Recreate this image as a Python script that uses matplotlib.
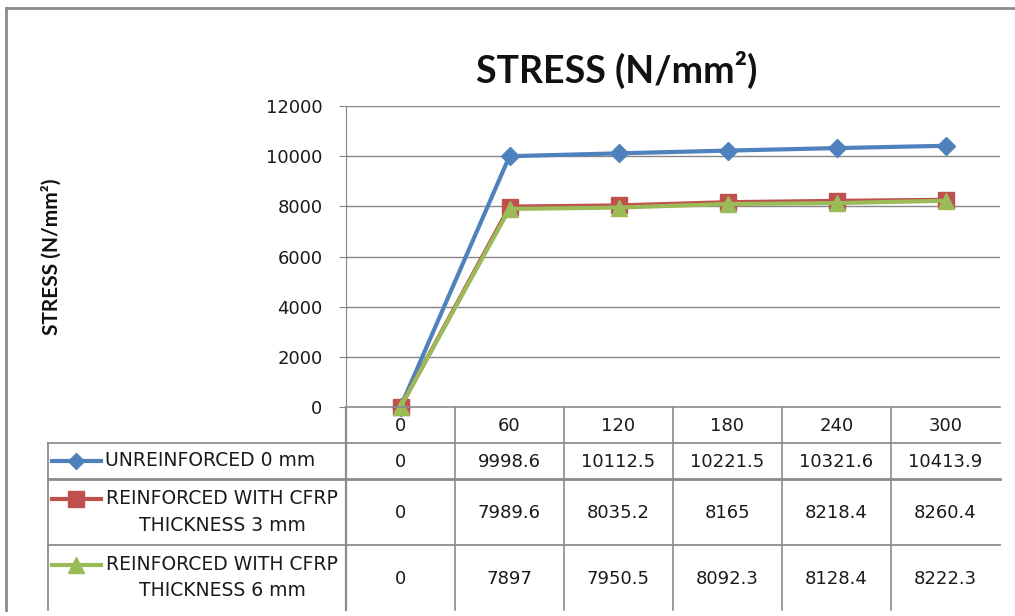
import matplotlib
matplotlib.use("Agg")
import matplotlib.pyplot as plt
from matplotlib.lines import Line2D

categories = ["0", "60", "120", "180", "240", "300"]
series_names = ["UNREINFORCED 0 mm",
                "REINFORCED WITH CFRP\nTHICKNESS 3 mm",
                "REINFORCED WITH CFRP\nTHICKNESS 6 mm"]
unreinforced = [0, 9998.6, 10112.5, 10221.5, 10321.6, 10413.9]
cfrp_3mm = [0, 7989.6, 8035.2, 8165, 8218.4, 8260.4]
cfrp_6mm = [0, 7897, 7950.5, 8092.3, 8128.4, 8222.3]
y_ticks = [0, 2000, 4000, 6000, 8000, 10000, 12000]

series = [unreinforced, cfrp_3mm, cfrp_6mm]
colors = ["#4F81BD", "#C0504D", "#9BBB59"]
markers = ["D", "s", "^"]
msizes = [9, 12, 12]

W, H = 1015, 616
fig = plt.figure(figsize=(W / 100, H / 100), dpi=100)
FONT = "DejaVu Sans"
GRID = "#868686"
TXT = "#1a1a1a"

# plot area in pixels
L, R, T, B = 346, 1000, 106, 407
ax = fig.add_axes([L / W, 1 - B / H, (R - L) / W, (B - T) / H])
n = len(categories)
x = list(range(n))
for vals, c, m, ms in zip(series, colors, markers, msizes):
    ax.plot(x, vals, color=c, lw=3, marker=m, markersize=ms,
            markeredgecolor=c, zorder=3, clip_on=False)
ax.set_xlim(-0.5, n - 0.5)
ax.set_ylim(y_ticks[0], y_ticks[-1])
ax.set_yticks(y_ticks)
ax.set_yticklabels([str(t) for t in y_ticks], fontsize=13, family=FONT,
                   color=TXT)
ax.set_xticks([])
ax.yaxis.grid(True, color=GRID, lw=1)
ax.set_axisbelow(True)
for s in ["top", "right", "bottom"]:
    ax.spines[s].set_visible(False)
ax.spines["left"].set_color(GRID)
ax.tick_params(axis="y", length=5, color=GRID, pad=12)

# overlay axes in pixel coords for table, title, border
ov = fig.add_axes([0, 0, 1, 1])
ov.set_xlim(0, W)
ov.set_ylim(H, 0)
ov.axis("off")
ov.patch.set_alpha(0)

# outer border
ov.plot([6, 6], [8, 610], color="#8c8c8c", lw=2)
ov.plot([6, W], [8, 8], color="#8c8c8c", lw=2)

ov.text(617, 70, "STRESS (N/mm²)", ha="center", va="center",
        fontsize=27, fontweight="bold", family="Lato", color="#111111")
ov.text(51, 257, "STRESS (N/mm²)", ha="center", va="center", rotation=90,
        fontsize=15, fontweight="bold", family="Lato", color="#111111")

# table geometry
col_w = (R - L) / n
row_y = [B, 443, 479, 545, 610]
tleft = 48
lc = "#8c8c8c"
ov.plot([L, R], [B, B], color=lc, lw=1.2)
for yy, lw in zip(row_y[1:4], [1.3, 2.0, 1.3]):
    ov.plot([tleft, R], [yy, yy], color=lc, lw=lw)
ov.plot([L, L], [B, 610], color=lc, lw=1.6)
for k in range(1, n):
    xx = L + k * col_w
    ov.plot([xx, xx], [B, 610], color=lc, lw=1.2)
ov.plot([tleft, tleft], [row_y[1], 610], color=lc, lw=1.3)

# header
for k, cat in enumerate(categories):
    ov.text(L + (k + 0.5) * col_w, (row_y[0] + row_y[1]) / 2 + 1, cat,
            ha="center", va="center", fontsize=13, family=FONT, color=TXT)

# rows
for r, (name, vals, c, m, ms) in enumerate(zip(series_names, series, colors,
                                               markers, msizes)):
    y0, y1 = row_y[r + 1], row_y[r + 2]
    yc = (y0 + y1) / 2
    if r == 0:
        ly = yc
        ov.text(105, yc, name, ha="left", va="center", fontsize=13.5,
                family=FONT, color=TXT)
    else:
        ly = yc - 13
        ov.text(222, yc, name, ha="center", va="center", fontsize=13.5,
                family=FONT, color=TXT, multialignment="center",
                linespacing=1.5)
    ov.add_line(Line2D([52, 101], [ly, ly], color=c, lw=3))
    ov.add_line(Line2D([76], [ly], color=c, marker=m, markersize=ms - 1,
                       markeredgecolor=c))
    for k, v in enumerate(vals):
        ov.text(L + (k + 0.5) * col_w, yc + 1, f"{v:g}", ha="center",
                va="center", fontsize=13, family=FONT, color=TXT)

fig.savefig("out.png", dpi=100)
